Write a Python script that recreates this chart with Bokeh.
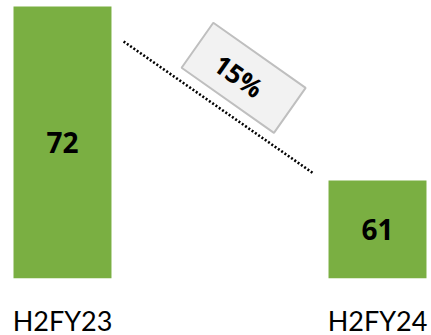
from bokeh.plotting import figure
from bokeh.models import Range1d, FixedTicker, ColumnDataSource
from bokeh.embed import file_html
from bokeh.resources import INLINE
from bokeh.core.properties import value
import math

# data
categories = ["H2FY23", "H2FY24"]
values = [72, 61]
change_label = "15%"

# annotation placement (data coordinates)
connector_x = [0.194, 0.797]
connector_y = [69.79, 61.44]
badge_x = 0.575
badge_y = 67.49

GREEN = "#7aaf42"
xs = list(range(len(categories)))
y_start = 54.8

src = ColumnDataSource(dict(x=xs, top=values, label=[str(v) for v in values],
                            ymid=[(v + y_start) / 2 for v in values]))

p = figure(frame_width=431, frame_height=278, output_backend="svg", toolbar_location=None,
           x_range=Range1d(-0.1968, 1.1714), y_range=Range1d(y_start, 72.38),
           min_border_left=0, min_border_right=0, min_border_top=0, min_border_bottom=0)
p.outline_line_color = None
p.xgrid.visible = False
p.ygrid.visible = False
p.yaxis.visible = False
p.background_fill_color = "white"
p.border_fill_color = "white"

p.vbar(x="x", top="top", bottom=y_start, width=0.311, source=src,
       fill_color=GREEN, line_color=None)
p.text(x="x", y="ymid", text="label", source=src, text_align="center", text_baseline="middle",
       text_font=value("Open Sans"), text_font_style="bold", text_font_size="28px", text_color="black")

p.line(connector_x, connector_y, line_color="black", line_width=2.6, line_dash="2 2")

ang = -35.2 * math.pi / 180
p.rect(x=[badge_x], y=[badge_y], width=113, height=55, width_units="screen", height_units="screen",
       angle=ang, fill_color="#f2f2f2", line_color="#bfbfbf", line_width=2)
p.text(x=[badge_x], y=[badge_y], text=[change_label], angle=ang, text_align="center",
       text_baseline="middle", text_font=value("Open Sans"), text_font_style="bold",
       text_font_size="26px", text_color="black", x_offset=-5, y_offset=-2)

ax = p.xaxis[0]
ax.ticker = FixedTicker(ticks=xs)
ax.major_label_overrides = {i: c for i, c in zip(xs, categories)}
ax.axis_line_color = None
ax.major_tick_line_color = None
ax.minor_tick_line_color = None
ax.major_label_text_font = "Lato"
ax.major_label_text_font_size = "27px"
ax.major_label_text_color = "black"
ax.major_label_standoff = 19

open("out.html", "w").write(file_html(p, INLINE))
